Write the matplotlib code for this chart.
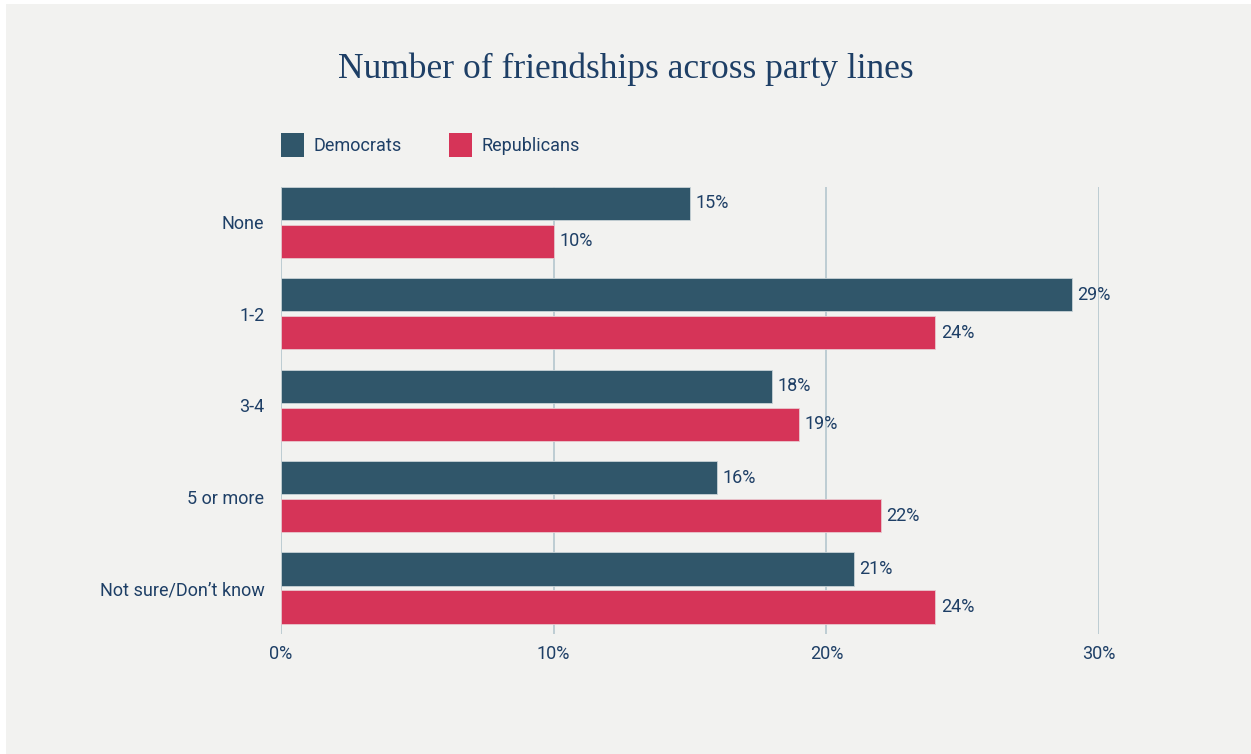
import matplotlib
matplotlib.use("Agg")
import matplotlib.pyplot as plt
import numpy as np
from matplotlib.patches import Rectangle

categories = ["None", "1-2", "3-4", "5 or more", "Not sure/Don\u2019t know"]
democrats = [15, 29, 18, 16, 21]
republicans = [10, 24, 19, 22, 24]
x_ticks = [0, 10, 20, 30]

DEM = "#30566a"
REP = "#d63458"
TEXT = "#1e3f66"
GRID = "#b4c6ce"
PANEL = "#f2f2f0"

sans = ["Liberation Sans Narrow", "Roboto", "DejaVu Sans"]
serif = ["Liberation Serif", "DejaVu Serif"]

fig = plt.figure(figsize=(12.51, 7.54), dpi=100, facecolor="white")
fig.patches.append(Rectangle((6 / 1251, 0), 1, 1 - 4 / 754, transform=fig.transFigure,
                             facecolor=PANEL, edgecolor="none", zorder=-5))

ax = fig.add_axes([281 / 1251, 1 - 634 / 754, (1099 - 281) / 1251, (634 - 187) / 754])
ax.set_facecolor("none")
ax.set_zorder(2)

y = np.arange(len(categories))
h = 0.362
off = 0.208
ax.barh(y - off, democrats, height=h, color=DEM, edgecolor="#c8d2d6", linewidth=0.6, zorder=3)
ax.barh(y + off, republicans, height=h, color=REP, edgecolor="#e8c8cf", linewidth=0.6, zorder=3)

for yi, v in zip(y - off, democrats):
    ax.text(v + 0.2, yi, f"{v}%", va="center", ha="left", fontsize=13, color=TEXT, family=sans)
for yi, v in zip(y + off, republicans):
    ax.text(v + 0.2, yi, f"{v}%", va="center", ha="left", fontsize=13, color=TEXT, family=sans)

ax.set_xlim(0, 30)
ax.set_ylim(4.503, -0.388)
ax.set_xticks(x_ticks)
ax.set_xticklabels([f"{t}%" for t in x_ticks], fontsize=13, color=TEXT, family=sans)
ax.set_yticks(y)
ax.set_yticklabels(categories, fontsize=13, color=TEXT, family=sans)
ax.tick_params(length=0)
ax.tick_params(axis="x", pad=8)
ax.tick_params(axis="y", pad=12)
for s in ax.spines.values():
    s.set_visible(False)
ax.xaxis.grid(True, color=GRID, linewidth=1.2, zorder=0)
ax.set_axisbelow(True)

fig.text(0.5, 1 - 69 / 754, "Number of friendships across party lines", ha="center", va="center",
         fontsize=25.5, color=TEXT, family=serif)

# legend drawn by hand, square swatches then labels
for x0, col, lab in [(281, DEM, "Democrats"), (449, REP, "Republicans")]:
    fig.patches.append(Rectangle((x0 / 1251, 1 - 157 / 754), 23 / 1251, 24 / 754,
                                 transform=fig.transFigure, facecolor=col, edgecolor="none"))
    fig.text((x0 + 33) / 1251, 1 - 146 / 754, lab, ha="left", va="center",
             fontsize=13, color=TEXT, family=sans)

fig.savefig("out.png", dpi=100, facecolor=fig.get_facecolor())
